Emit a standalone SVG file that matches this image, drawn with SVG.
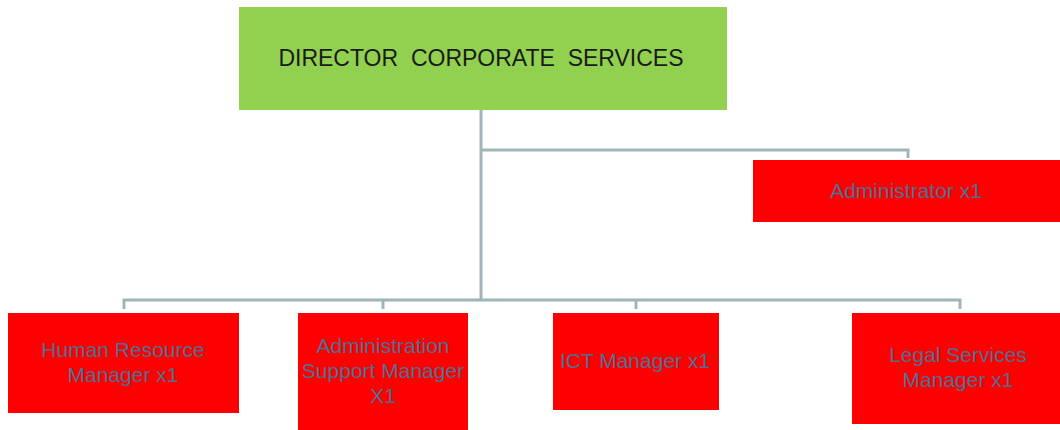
<svg xmlns="http://www.w3.org/2000/svg" width="1060" height="430" viewBox="0 0 1060 430">
<style>
.red{fill:#ff0000}
.t{font-family:"Liberation Sans",Arial,sans-serif;font-size:21px;fill:#4f6f91;text-anchor:middle}
.d{font-family:"Liberation Sans",Arial,sans-serif;font-size:23px;fill:#1a1a1a;text-anchor:middle}
.c{fill:none;stroke:#9fb5b9;stroke-width:3}
</style>
<rect width="1060" height="430" fill="#ffffff"/>
<g id="connectors">
<path class="c" d="M481 110 V300"/>
<path class="c" d="M481 150 H908 V158"/>
<path class="c" d="M124 309 V300 H960 V309"/>
<path class="c" d="M383 300 V309"/>
<path class="c" d="M636 300 V309"/>
</g>
<g id="director">
<rect x="239" y="7" width="488" height="103" fill="#92d050"/>
<text class="d" x="481" y="66" xml:space="preserve">DIRECTOR  CORPORATE  SERVICES</text>
</g>
<g id="administrator">
<rect class="red" x="753" y="160" width="307" height="62"/>
<text class="t" x="906" y="198">Administrator x1</text>
</g>
<g id="hr">
<rect class="red" x="8" y="313" width="231" height="100"/>
<text class="t" x="123" y="357">Human Resource</text>
<text class="t" x="123" y="382">Manager x1</text>
</g>
<g id="admin-support">
<rect class="red" x="298" y="313" width="170" height="117"/>
<text class="t" x="383" y="353">Administration</text>
<text class="t" x="383" y="378">Support Manager</text>
<text class="t" x="383" y="403">X1</text>
</g>
<g id="ict">
<rect class="red" x="553" y="313" width="166" height="97"/>
<text class="t" x="635" y="368">ICT Manager x1</text>
</g>
<g id="legal">
<rect class="red" x="852" y="313" width="208" height="111"/>
<text class="t" x="958" y="362">Legal Services</text>
<text class="t" x="958" y="387">Manager x1</text>
</g>
</svg>
